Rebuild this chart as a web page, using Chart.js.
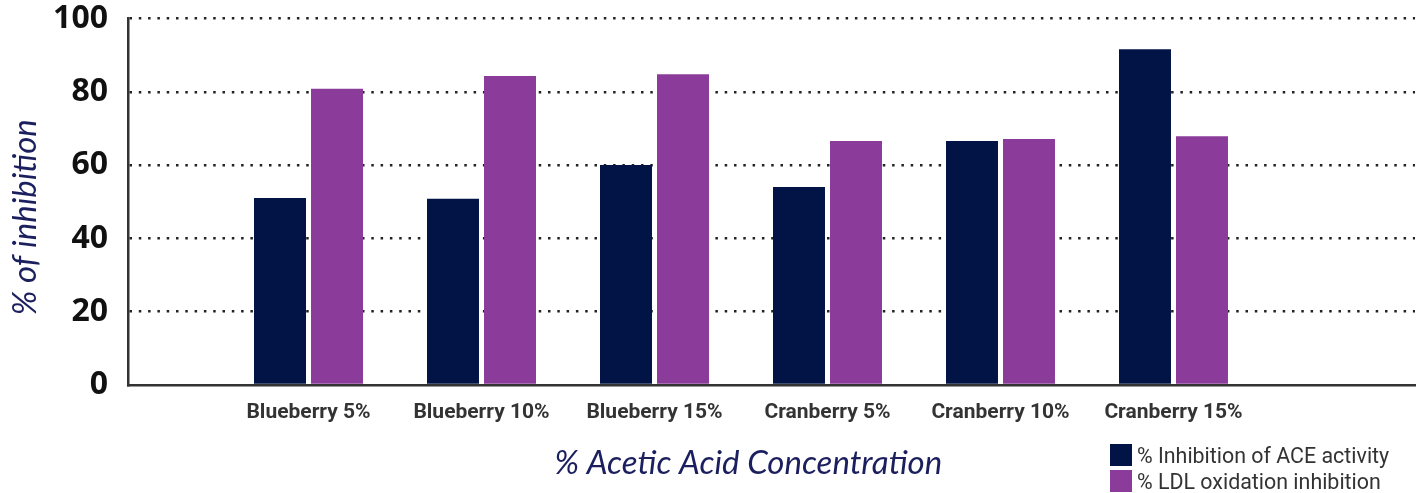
<!DOCTYPE html>
<html>
<head>
<meta charset="utf-8">
<script src="https://cdn.jsdelivr.net/npm/chart.js@4/dist/chart.umd.min.js"></script>
<style>
  body { margin: 0; background: #fff; }
  #wrap { position: relative; width: 1422px; height: 493px; }
  #legend { position: absolute; left: 1110px; top: 442px; font-family: Roboto, sans-serif; font-size: 21.4px; color: #333; }
  #legend div { display: flex; align-items: center; height: 26px; }
  #legend span.box { display: inline-block; width: 22px; height: 22px; margin-right: 5px; }
</style>
</head>
<body>
<div id="wrap">
  <canvas id="c" width="1422" height="493"></canvas>
  <div id="legend"></div>
</div>
<script>
var categories = ['Blueberry 5%', 'Blueberry 10%', 'Blueberry 15%', 'Cranberry 5%', 'Cranberry 10%', 'Cranberry 15%']
var aceInhibition = [51.0, 50.8, 60.0, 54.0, 66.6, 91.6]
var ldlInhibition = [80.8, 84.3, 84.8, 66.6, 67.1, 67.9]
var seriesNames = ['% Inhibition of ACE activity', '% LDL oxidation inhibition']
var colors = ['#021445', '#8b3c9a']
var yTicks = [0, 20, 40, 60, 80, 100]

function toPoints(vals) {
    return vals.map(function (v, i) { return { x: i + 1, y: v } })
}

var datasets = [aceInhibition, ldlInhibition].map(function (vals, i) {
    return {
        label: seriesNames[i],
        data: toPoints(vals),
        backgroundColor: colors[i],
        borderWidth: 0,
        categoryPercentage: 0.659,
        barPercentage: 0.912
    }
})

// html legend, stacked at bottom right
var leg = document.getElementById('legend')
seriesNames.forEach(function (name, i) {
    leg.insertAdjacentHTML('beforeend', '<div><span class="box" style="background:' + colors[i] + '"></span>' + name + '</div>')
})

new Chart(document.getElementById('c').getContext('2d'), {
    type: 'bar',
    data: { datasets: datasets },
    options: {
        responsive: false,
        animation: false,
        layout: { padding: { top: 0, right: 7, left: 0, bottom: 0 } },
        plugins: { legend: { display: false }, tooltip: { enabled: false } },
        scales: {
            x: {
                type: 'linear',
                offset: false,
                min: -0.0434,
                max: 7.396,
                grid: { display: false },
                border: { display: true, color: '#333', width: 2.5 },
                afterBuildTicks: function (axis) {
                    axis.ticks = categories.map(function (c, i) { return { value: i + 1 } })
                },
                afterFit: function (axis) { axis.height = 108 },
                ticks: {
                    padding: 7,
                    color: '#333',
                    maxRotation: 0,
                    font: { family: 'Roboto', size: 21, weight: 'bold' },
                    callback: function (v) { return categories[v - 1] }
                },
                title: {
                    display: true,
                    // trailing spaces nudge the centred title left like the original
                    text: '% Acetic Acid Concentration' + '\u00a0'.repeat(6),
                    color: '#1b1f5e',
                    font: { family: 'Lato', size: 33, style: 'italic' },
                    padding: { top: 0, bottom: 10 }
                }
            },
            y: {
                min: 0,
                max: 100,
                afterBuildTicks: function (axis) {
                    axis.ticks = yTicks.map(function (v) { return { value: v } })
                },
                afterFit: function (axis) {
                    axis.width = 128
                    axis.paddingTop = 18.5
                },
                grid: {
                    drawTicks: false,
                    lineWidth: 2.5,
                    color: function (ctx) { return ctx.tick && ctx.tick.value === 0 ? 'rgba(0,0,0,0)' : '#222' }
                },
                border: { display: true, color: '#333', width: 2.5, dash: [2.5, 6.8] },
                ticks: {
                    padding: 20,
                    color: '#111',
                    font: { family: 'Open Sans', size: 32, weight: 'bold' }
                },
                title: {
                    display: true,
                    text: '% of inhibition' + '\u00a0'.repeat(4),
                    color: '#1b1f5e',
                    font: { family: 'Lato', size: 33, style: 'italic' },
                    padding: { top: 6, bottom: 0 }
                }
            }
        }
    }
})
</script>
</body>
</html>
